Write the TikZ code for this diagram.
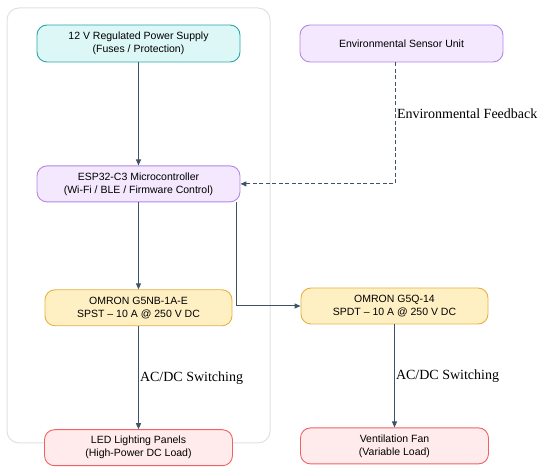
\documentclass[tikz,border=0pt]{standalone}
\usepackage{fontspec}
\setmainfont{Liberation Serif}
\setsansfont{Liberation Sans}
\usepackage{xcolor}
\usetikzlibrary{arrows.meta,positioning,backgrounds}
\definecolor{psuFill}{HTML}{DDF7F7}
\definecolor{psuLine}{HTML}{2AA6A6}
\definecolor{mcuFill}{HTML}{F3E8FD}
\definecolor{mcuLine}{HTML}{B287E6}
\definecolor{relFill}{HTML}{FFF0C4}
\definecolor{relLine}{HTML}{E8B040}
\definecolor{ldFill}{HTML}{FFEBEB}
\definecolor{ldLine}{HTML}{F06262}
\definecolor{arrCol}{HTML}{3E5366}
\definecolor{grpCol}{HTML}{DCE2E7}
\tikzset{
  blk/.style={rectangle, rounded corners=10pt, line width=0.9pt,
              minimum width=203pt, minimum height=37pt, inner sep=0pt,
              align=center, font=\sffamily\fontsize{10.5}{13}\selectfont},
  blkP/.style={blk, draw=psuLine, fill=psuFill},
  blkM/.style={blk, draw=mcuLine, fill=mcuFill},
  blkR/.style={blk, draw=relLine, fill=relFill, minimum width=187pt, minimum height=36pt},
  blkL/.style={blk, draw=ldLine, fill=ldFill, minimum width=188pt, minimum height=36pt},
  arr/.style={-{Triangle[length=6pt,width=5pt]}, line width=1pt, arrCol},
  darr/.style={arr, dashed, dash pattern=on 4pt off 2.5pt},
  lbl/.style={font=\rmfamily\fontsize{14}{16}\selectfont, text=black, inner sep=1pt},
  grp/.style={draw=grpCol, line width=1pt, rounded corners=12pt}
}
\begin{document}
\begin{tikzpicture}[x=1pt, y=1pt]
\useasboundingbox (0,0) rectangle (550,-470);
\node[blkP] (psu) at (138.5,-43.5) {12 V Regulated Power Supply\\(Fuses / Protection)};
\node[blkM] (sens) at (401.5,-43.5) {Environmental Sensor Unit};
\node[blkM, minimum height=36pt, below=103pt of psu] (esp)
  {ESP32-C3 Microcontroller\\(Wi-Fi / BLE / Firmware Control)};
\node[blkR, below=87pt of esp] (g5nb) {OMRON G5NB-1A-E\\SPST -- 10 A @ 250 V DC};
\node[blkR] (g5q) at (394.5,-306) {OMRON G5Q-14\\SPDT -- 10 A @ 250 V DC};
\node[blkL, below=103pt of g5nb] (led) {LED Lighting Panels\\(High-Power DC Load)};
\node[blkL, below=103pt of g5q] (fan) {Ventilation Fan\\(Variable Load)};
\draw[arr] (psu) -- (esp);
\draw[arr] (esp) -- (g5nb);
\draw[arr] ([xshift=-4pt]esp.south east) |- (g5q.west);
\draw[darr] ([xshift=-6pt]sens.south) |- (esp.east)
  node[pos=0.21, right, lbl] {Environmental Feedback};
\draw[arr] (g5nb) -- (led) node[midway, right, lbl] {AC/DC Switching};
\draw[arr] (g5q) -- (fan) node[midway, right, lbl] {AC/DC Switching};
\begin{scope}[on background layer]
  \node[grp, minimum width=263pt, minimum height=435pt] (ctrl) at (138.5,-225.5) {};
\end{scope}
\end{tikzpicture}
\end{document}
